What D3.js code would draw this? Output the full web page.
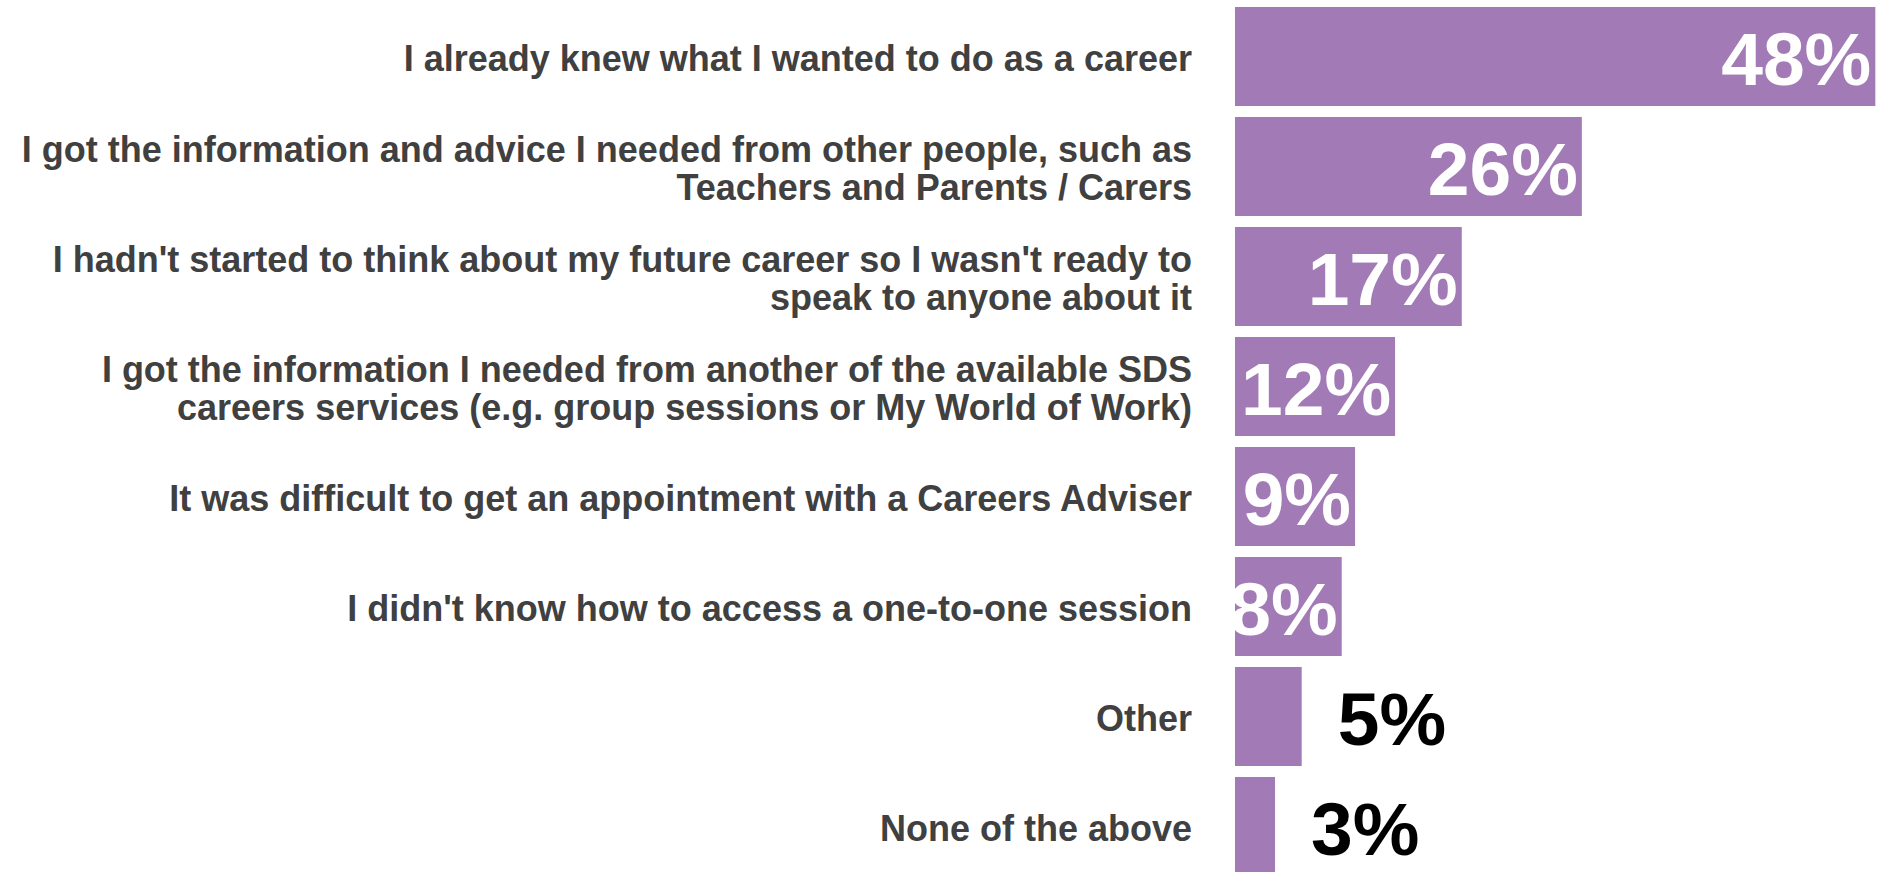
<!DOCTYPE html>
<html>
<head>
<meta charset="utf-8">
<script src="https://cdn.jsdelivr.net/npm/d3@7"></script>
<style>
  html, body { margin: 0; padding: 0; background: #ffffff; overflow: hidden; }
  svg { display: block; font-family: "Liberation Sans", Arial, Helvetica, sans-serif; }
</style>
</head>
<body>
<svg id="chart" width="1888" height="872"></svg>
<script>
// Reasons for not speaking to a Careers Adviser one-to-one (% of respondents)
const categories = [
  ["I already knew what I wanted to do as a career"],
  ["I got the information and advice I needed from other people, such as", "Teachers and Parents / Carers"],
  ["I hadn't started to think about my future career so I wasn't ready to", "speak to anyone about it"],
  ["I got the information I needed from another of the available SDS", "careers services (e.g. group sessions or My World of Work)"],
  ["It was difficult to get an appointment with a Careers Adviser"],
  ["I didn't know how to access a one-to-one session"],
  ["Other"],
  ["None of the above"]
];
const values = [48, 26, 17, 12, 9, 8, 5, 3];

const rows = categories.map((lines, i) => ({ key: i, lines, value: values[i] }));

const svg = d3.select("#chart");

const x = d3.scaleLinear().domain([0, 50]).range([1235, 1902]);
const y = d3.scaleBand()
  .domain(rows.map(d => d.key))
  .range([1.5, 881.5])
  .paddingInner(0.1)
  .paddingOuter(0.05);

const barColor = "#a27bb6";
const insideMin = 8;   // smaller bars carry their value outside

// bars
svg.append("g")
  .selectAll("rect")
  .data(rows)
  .join("rect")
  .attr("x", x(0))
  .attr("y", d => y(d.key))
  .attr("width", d => x(d.value) - x(0))
  .attr("height", y.bandwidth())
  .attr("fill", barColor);

// category labels, right-aligned to the left of the bars
const lineGap = 38;
const labelSize = 36;
const labels = svg.append("g")
  .attr("font-size", labelSize)
  .attr("font-weight", "bold")
  .attr("fill", "#404040")
  .attr("text-anchor", "end");

labels.selectAll("text")
  .data(rows)
  .join("text")
  .attr("x", 1192)
  .attr("y", d => y(d.key) + y.bandwidth() / 2 + 14 - (d.lines.length - 1) * lineGap / 2)
  .each(function(d) {
    d3.select(this).selectAll("tspan")
      .data(d.lines)
      .join("tspan")
      .attr("x", 1192)
      .attr("dy", (l, j) => j === 0 ? 0 : lineGap)
      .text(l => l);
  });

// value labels
svg.append("g")
  .attr("font-size", 75)
  .attr("font-weight", "bold")
  .selectAll("text")
  .data(rows)
  .join("text")
  .attr("x", d => d.value >= insideMin ? x(d.value) - 4 : x(d.value) + 36)
  .attr("y", d => y(d.key) + y.bandwidth() / 2 + 28)
  .attr("text-anchor", d => d.value >= insideMin ? "end" : "start")
  .attr("fill", d => d.value >= insideMin ? "#ffffff" : "#000000")
  .text(d => d.value + "%");
</script>
</body>
</html>
